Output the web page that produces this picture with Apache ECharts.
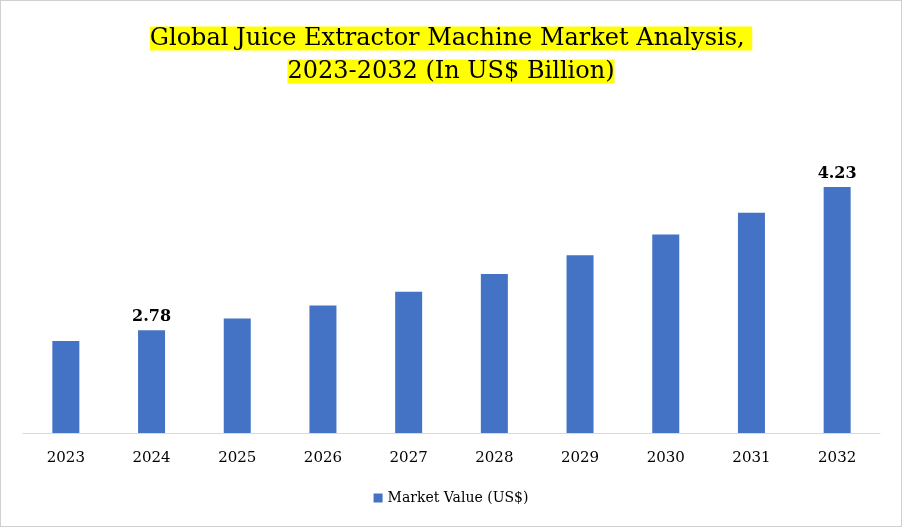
<!DOCTYPE html>
<html><head><meta charset="utf-8">
<script src="https://cdn.jsdelivr.net/npm/echarts@6/dist/echarts.min.js"></script>
<style>html,body{margin:0;padding:0;background:#fff}#c{width:900px;height:525px;border:1px solid #d0d0d0}</style>
</head><body><div id="c"></div>
<script>
const categories=['2023','2024','2025','2026','2027','2028','2029','2030','2031','2032'];
const values=[2.67,2.78,2.90,3.03,3.17,3.35,3.54,3.75,3.97,4.23];
const labeled=['2024','2032'];
const chart=echarts.init(document.getElementById('c'));
const serif='"DejaVu Serif","Liberation Serif",serif';
chart.setOption({
  animation:false,
  title:{left:'center',top:16,
    text:'{a|Global Juice Extractor Machine Market Analysis, }\n{a|2023-2032 (In US$ Billion)}',
    textStyle:{fontWeight:'normal',rich:{a:{fontFamily:serif,fontSize:24,fontWeight:'normal',color:'#000',backgroundColor:'#ffff00',lineHeight:33,align:'center'}}}},
  grid:{left:22,right:21,top:100,bottom:93},
  legend:{bottom:16,left:'center',itemWidth:9,itemHeight:9,icon:'rect',
    textStyle:{fontFamily:serif,fontSize:14,color:'#000'}},
  xAxis:{type:'category',data:categories,axisTick:{show:false},
    axisLine:{lineStyle:{color:'#d9d9d9'}},
    axisLabel:{fontFamily:serif,fontSize:15,color:'#000',margin:18}},
  yAxis:{type:'value',min:1.74,max:5.1,show:false,splitLine:{show:false}},
  series:[{name:'Market Value (US$)',type:'bar',barWidth:27,
    itemStyle:{color:'#4472C4'},
    data:values,
    label:{show:true,position:'top',fontFamily:serif,fontSize:16,fontWeight:'bold',color:'#000',
      formatter:p=>labeled.includes(p.name)?p.value.toFixed(2):''}}]
});
</script></body></html>
